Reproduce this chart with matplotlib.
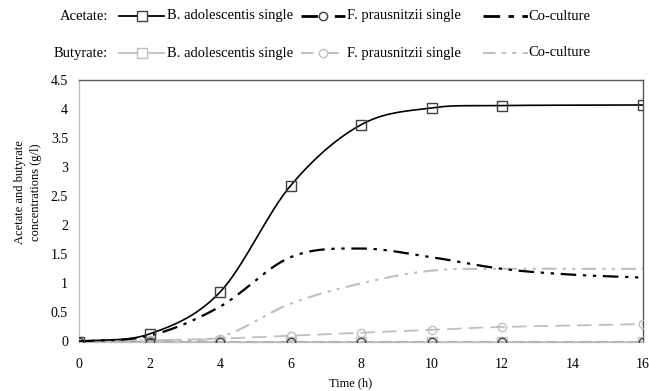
import numpy as np
import matplotlib
matplotlib.use("Agg")
import matplotlib.pyplot as plt
from matplotlib.lines import Line2D

plt.rcParams['font.family'] = ['Liberation Serif', 'DejaVu Serif']

# ---- data ----
time_ba = [0, 2, 4, 6, 8, 10, 12, 16]
ace_ba = [0.0, 0.13, 0.85, 2.68, 3.73, 4.02, 4.06, 4.07]
but_ba = [0.0, 0.0, 0.0, 0.0, 0.0, 0.0, 0.0, 0.0]

time_fp = [0, 2, 4, 6, 8, 10, 12, 16]
ace_fp = [0.0, 0.0, 0.0, 0.0, 0.0, 0.0, 0.0, 0.0]
but_fp = [0.0, 0.02, 0.05, 0.10, 0.15, 0.20, 0.25, 0.30]

time_co = [0, 2, 4, 6, 8, 10, 12, 14, 16]
ace_co = [0.0, 0.10, 0.60, 1.45, 1.60, 1.45, 1.25, 1.15, 1.10]
but_co = [0.0, 0.02, 0.08, 0.65, 1.00, 1.22, 1.25, 1.25, 1.25]

x_ticks = [0, 2, 4, 6, 8, 10, 12, 14, 16]
y_ticks = [0, 0.5, 1, 1.5, 2, 2.5, 3, 3.5, 4, 4.5]
y_tick_labels = ['0', '0.5', '1', '1.5', '2', '2.5', '3', '3.5', '4', '4.5']


def smooth(x, y, n=30):
    """Catmull-Rom spline through the points (display smoothing like Excel)."""
    x = np.asarray(x, float); y = np.asarray(y, float)
    P = np.column_stack([x, y])
    P = np.vstack([P[0] - (P[1] - P[0]), P, P[-1] + (P[-1] - P[-2])])
    out = []
    for i in range(1, len(P) - 2):
        p0, p1, p2, p3 = P[i - 1], P[i], P[i + 1], P[i + 2]
        t = np.linspace(0, 1, n, endpoint=False)[:, None]
        seg = 0.5 * ((2 * p1) + (-p0 + p2) * t + (2 * p0 - 5 * p1 + 4 * p2 - p3) * t ** 2
                     + (-p0 + 3 * p1 - 3 * p2 + p3) * t ** 3)
        out.append(seg)
    out.append(P[-2][None, :])
    out = np.vstack(out)
    return out[:, 0], out[:, 1]


BLACK = '#000000'
GRAY = '#BFBFBF'
MGRAY = '#595959'
DGRAY = '#404040'

fig = plt.figure(figsize=(6.49, 3.91), dpi=100)
ax = fig.add_axes([79 / 649, 1 - 341.5 / 391, (643 - 79) / 649, (341.5 - 80) / 391])

ls_dash = (0, (8, 4))
ls_co = (0, (7, 3, 1.5, 3, 1.5, 3))

# butyrate series (gray) first
sx, sy = smooth(time_ba, but_ba)
ax.plot(sx, sy, color=GRAY, lw=1.2, zorder=2)
ax.plot(time_ba, but_ba, ls='none', marker='s', ms=7, mfc='none', mec=GRAY, mew=1, zorder=3)

sx, sy = smooth(time_fp, but_fp)
ax.plot(sx, sy, color=GRAY, lw=1.3, ls=ls_dash, zorder=2)
ax.plot(time_fp, but_fp, ls='none', marker='o', ms=6, mfc='none', mec=GRAY, mew=1, zorder=3)

sx, sy = smooth(time_co, but_co)
ax.plot(sx, sy, color=GRAY, lw=1.5, ls=ls_co, zorder=2)

# acetate series (black)
sx, sy = smooth(time_fp, ace_fp)
ax.plot(sx, sy, color=DGRAY, lw=1.0, ls=ls_dash, zorder=4)
ax.plot(time_fp, ace_fp, ls='none', marker='o', ms=6, mfc='none', mec=DGRAY, mew=1, zorder=4)

sx, sy = smooth(time_co, ace_co)
ax.plot(sx, sy, color=BLACK, lw=1.6, ls=ls_co, zorder=4)

sx, sy = smooth(time_ba, ace_ba)
ax.plot(sx, sy, color=BLACK, lw=1.2, zorder=5)
ax.plot(time_ba, ace_ba, ls='none', marker='s', ms=7, mfc='none', mec=DGRAY, mew=1, zorder=5)

ax.set_xlim(0, 16)
ax.set_ylim(0, 4.5)
ax.set_xticks(x_ticks)
ax.set_xticklabels([str(t) for t in x_ticks])
ax.set_yticks(y_ticks)
ax.set_yticklabels(y_tick_labels)
ax.tick_params(axis='both', length=0, labelsize=10, colors=BLACK)
ax.tick_params(axis='x', pad=12)
ax.tick_params(axis='y', pad=8)
for side in ['top', 'right']:
    ax.spines[side].set_color(MGRAY)
    ax.spines[side].set_linewidth(1.0)
for side in ['left', 'bottom']:
    ax.spines[side].set_color(GRAY)
    ax.spines[side].set_linewidth(1.0)

fig.text(351 / 649, 1 - 383 / 391, 'Time (h)', ha='center', va='center', fontsize=9)
fig.text(28 / 649, 1 - 192 / 391, 'Acetate and butyrate\nconcentrations (g/l)', ha='center',
         va='center', rotation=90, fontsize=9, linespacing=1.4)

# ---- legend, drawn manually ----
def fx(px):
    return px / 649

def fy(py):
    return 1 - py / 391

LFS = 10.5
rows = [
    (16, 'Acetate:', BLACK, DGRAY),
    (53, 'Butyrate:', GRAY, GRAY),
]
for yrow, label, c1, c2 in rows:
    fig.text(fx(108), fy(yrow), label, ha='right', va='center', fontsize=LFS)
    # B. adolescentis
    fig.add_artist(Line2D([fx(119), fx(164)], [fy(yrow), fy(yrow)], color=c1, lw=1.3))
    fig.add_artist(Line2D([fx(142)], [fy(yrow)], marker='s', ms=7, mfc='white', mec=c2, mew=1))
    fig.text(fx(167), fy(yrow), 'B. adolescentis single', ha='left', va='center', fontsize=LFS)
    # F. prausnitzii
    fig.add_artist(Line2D([fx(301), fx(345)], [fy(yrow), fy(yrow)], color=c1,
                          lw=2.0 if c1 == BLACK else 1.5, ls=(0, (6, 6))))
    fig.add_artist(Line2D([fx(323)], [fy(yrow)], marker='o', ms=6, mfc='white', mec=c2, mew=1))
    fig.text(fx(347), fy(yrow), 'F. prausnitzii single', ha='left', va='center', fontsize=LFS)
    # co-culture
    fig.add_artist(Line2D([fx(483), fx(528)], [fy(yrow), fy(yrow)], color=c1,
                          lw=2.0 if c1 == BLACK else 1.5, ls=(0, (6, 3, 2, 3, 2, 3))))
    fig.text(fx(528), fy(yrow), 'Co-culture', ha='left', va='center', fontsize=LFS)

fig.savefig('out.png', dpi=100)
